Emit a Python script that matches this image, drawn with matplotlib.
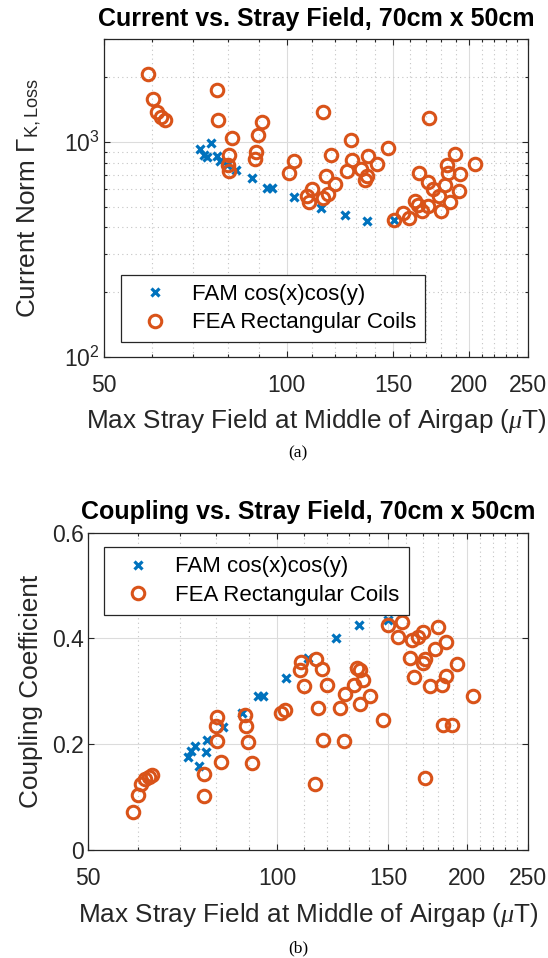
import matplotlib
matplotlib.use('Agg')
import matplotlib.pyplot as plt
from matplotlib.ticker import FixedLocator, NullFormatter, FixedFormatter, LogFormatterSciNotation

plt.rcParams['font.family'] = ['Liberation Sans', 'DejaVu Sans']
plt.rcParams['mathtext.fontset'] = 'custom'
plt.rcParams['mathtext.rm'] = 'Liberation Sans'
plt.rcParams['mathtext.it'] = 'Liberation Serif:italic'
plt.rcParams['mathtext.bf'] = 'Liberation Sans:bold'

# ---------------- data ----------------
x_ticks = [50, 100, 150, 200, 250]
x_tick_labels = ['50', '100', '150', '200', '250']
x_minor = [60, 70, 80, 90, 110, 120, 130, 140, 160, 170, 180, 190,
           210, 220, 230, 240]
ya_major = [100, 1000]
ya_minor = [200, 300, 400, 500, 600, 700, 800, 900, 2000, 3000]
yb_ticks = [0, 0.2, 0.4, 0.6]
yb_tick_labels = ['0', '0.2', '0.4', '0.6']

series_names = ['FAM cos(x)cos(y)', 'FEA Rectangular Coils']

fam_a_field = [75.0, 72.1, 73.0, 74.0, 76.9, 77.7, 79.6, 82.5, 87.7, 92.9,
               94.6, 103.0, 113.9, 124.9, 135.8, 150.1]
fam_a_current = [989, 926, 864, 851, 857, 810, 776, 739, 676, 612,
                 612, 555, 493, 455, 427, 432]

fea_a_field = [59.0, 60.2, 61.2, 62.1, 63.1, 76.8, 77.0, 81.3, 80.4, 80.1,
               80.4, 91.2, 89.8, 89.2, 88.7, 102.7, 101.1, 114.7, 127.7, 147.1,
               118.3, 128.2, 136.0, 140.7, 125.8, 132.8, 135.7, 134.7, 116.1, 120.3,
               110.0, 108.1, 109.0, 117.1, 114.9, 150.3, 155.6, 159.4, 163.1, 164.4,
               167.2, 165.3, 171.1, 174.5, 178.3, 171.2, 179.7, 185.8, 182.5, 184.2,
               183.9, 189.6, 192.8, 192.6, 204.1, 171.4]
fea_a_current = [2069, 1574, 1369, 1298, 1264, 1734, 1257, 1044, 864, 780,
                 735, 1236, 1073, 892, 827, 811, 717, 1377, 1022, 938,
                 864, 818, 861, 790, 730, 745, 693, 661, 690, 633,
                 606, 558, 527, 574, 549, 435, 466, 442, 529, 507,
                 475, 717, 650, 600, 559, 502, 479, 523, 629, 712,
                 776, 880, 710, 593, 784, 1291]

fam_b_field = [72.1, 72.9, 74.0, 75.0, 77.0, 77.3, 81.9, 87.7, 93.1, 94.9,
               103.3, 111.9, 123.9, 134.8, 149.7]
fam_b_coupling = [0.176, 0.187, 0.196, 0.160, 0.186, 0.209, 0.233, 0.259, 0.292, 0.291,
                  0.325, 0.364, 0.400, 0.426, 0.434]

fea_b_field = [58.9, 60.1, 60.8, 61.7, 62.4, 63.2, 76.5, 76.5, 80.1, 79.9,
               80.2, 81.2, 88.8, 89.0, 89.7, 91.1, 101.2, 102.6, 108.8, 108.7,
               110.2, 115.1, 117.5, 120.0, 116.0, 118.0, 114.7, 127.7, 125.7, 128.1,
               132.2, 133.8, 135.1, 136.7, 135.2, 140.3, 146.9, 149.7, 155.2, 157.7,
               163.4, 166.9, 170.5, 162.4, 164.9, 171.5, 170.3, 174.4, 178.0, 179.8,
               185.1, 185.1, 182.6, 192.8, 204.1, 183.4, 189.3, 171.5]
fea_b_coupling = [0.073, 0.105, 0.126, 0.135, 0.139, 0.142, 0.144, 0.103, 0.252, 0.234,
                  0.207, 0.167, 0.256, 0.235, 0.204, 0.165, 0.260, 0.265, 0.356, 0.340,
                  0.311, 0.362, 0.342, 0.312, 0.268, 0.208, 0.126, 0.206, 0.269, 0.296,
                  0.313, 0.345, 0.341, 0.322, 0.276, 0.292, 0.246, 0.426, 0.402, 0.431,
                  0.397, 0.403, 0.413, 0.363, 0.327, 0.362, 0.354, 0.310, 0.380, 0.421,
                  0.393, 0.330, 0.312, 0.351, 0.292, 0.236, 0.237, 0.137]

title_a = 'Current vs. Stray Field, 70cm x 50cm'
title_b = 'Coupling vs. Stray Field, 70cm x 50cm'
xlabel = r'Max Stray Field at Middle of Airgap ($\mu$T)'
ylabel_a = r'Current Norm $\Gamma_{\mathrm{K,Loss}}$'
ylabel_b = 'Coupling Coefficient'

# ---------------- style ----------------
BLUE = '#0072BD'
ORANGE = '#D95319'
AXC = '#262626'
W, H = 548, 958
TICK_FS = 16.5
LABEL_FS = 18.8
TITLE_FS = 18
LEG_FS = 16

fig = plt.figure(figsize=(W / 100, H / 100), dpi=100)

def axrect(l, r, t, b):
    return [l / W, 1 - b / H, (r - l) / W, (b - t) / H]

ax_a = fig.add_axes(axrect(104, 528, 39, 357))
ax_b = fig.add_axes(axrect(88, 528, 532.5, 850.3))

cross_kw = dict(linestyle='none', marker='x', markersize=6, markeredgewidth=2.3,
                color=BLUE)
circ_kw = dict(linestyle='none', marker='o', markersize=9, markeredgewidth=2.2,
               markerfacecolor='none', markeredgecolor=ORANGE)

def style(ax):
    ax.set_xscale('log')
    ax.set_xlim(50, 250)
    ax.xaxis.set_major_locator(FixedLocator(x_ticks))
    ax.xaxis.set_major_formatter(FixedFormatter(x_tick_labels))
    ax.xaxis.set_minor_locator(FixedLocator(x_minor))
    ax.xaxis.set_minor_formatter(NullFormatter())
    ax.tick_params(which='both', direction='in', top=True, right=True,
                   colors=AXC, labelcolor=AXC, labelsize=TICK_FS, width=0.8)
    ax.tick_params(which='major', length=4.5)
    ax.tick_params(which='minor', length=2.5)
    ax.tick_params(axis='x', which='major', pad=12)
    ax.tick_params(axis='y', which='major', pad=3)
    for s in ax.spines.values():
        s.set_color(AXC)
        s.set_linewidth(0.9)
    ax.grid(True, which='major', color='#dcdcdc', linewidth=0.8, linestyle='-')
    ax.set_axisbelow(True)
    ax.set_xlabel(xlabel, fontsize=LABEL_FS, color=AXC)
    ax.xaxis.set_label_coords(0.5, -0.158)

leg_kw = dict(borderaxespad=0, fontsize=LEG_FS, borderpad=0.4, handlelength=2.26,
              handletextpad=0.54, labelspacing=0.33, fancybox=False, framealpha=1,
              edgecolor=AXC)

# ---- top ----
style(ax_a)
ax_a.set_yscale('log')
ax_a.set_ylim(100, 3000)
ax_a.yaxis.set_major_locator(FixedLocator(ya_major))
ax_a.yaxis.set_major_formatter(LogFormatterSciNotation())
ax_a.yaxis.set_minor_locator(FixedLocator(ya_minor))
ax_a.yaxis.set_minor_formatter(NullFormatter())
ax_a.grid(True, which='minor', color='#c4c4c4', linewidth=0.8, linestyle=(0, (1, 3)))
ax_a.plot(fam_a_field, fam_a_current, label=series_names[0], **cross_kw)
ax_a.plot(fea_a_field, fea_a_current, label=series_names[1], **circ_kw)
ax_a.set_title(title_a, fontsize=TITLE_FS, fontweight='bold', color='black', pad=9.5)
ax_a.set_ylabel(ylabel_a, fontsize=LABEL_FS, color=AXC)
ax_a.yaxis.set_label_coords(-0.145, 0.5)
leg_a = ax_a.legend(loc='lower left', bbox_to_anchor=(0.040, 0.046), **leg_kw)
leg_a.get_frame().set_linewidth(0.9)

# ---- bottom ----
style(ax_b)
ax_b.set_ylim(0, 0.6)
ax_b.yaxis.set_major_locator(FixedLocator(yb_ticks))
ax_b.yaxis.set_major_formatter(FixedFormatter(yb_tick_labels))
ax_b.grid(True, which='minor', axis='x', color='#c4c4c4', linewidth=0.8,
          linestyle=(0, (1, 3)))
ax_b.plot(fam_b_field, fam_b_coupling, label=series_names[0], **cross_kw)
ax_b.plot(fea_b_field, fea_b_coupling, label=series_names[1], **circ_kw)
ax_b.set_title(title_b, fontsize=TITLE_FS, fontweight='bold', color='black', pad=9.5)
ax_b.set_ylabel(ylabel_b, fontsize=LABEL_FS, color=AXC)
ax_b.yaxis.set_label_coords(-0.103, 0.5)
leg_b = ax_b.legend(loc='upper left', bbox_to_anchor=(0.037, 0.953), **leg_kw)
leg_b.get_frame().set_linewidth(0.9)

# captions
fig.text(298 / W, 1 - 453 / H, '(a)', fontsize=12.5, family='Liberation Serif',
         ha='center', va='center')
fig.text(298 / W, 1 - 948 / H, '(b)', fontsize=12.5, family='Liberation Serif',
         ha='center', va='center')

fig.savefig('out.png', dpi=100)
